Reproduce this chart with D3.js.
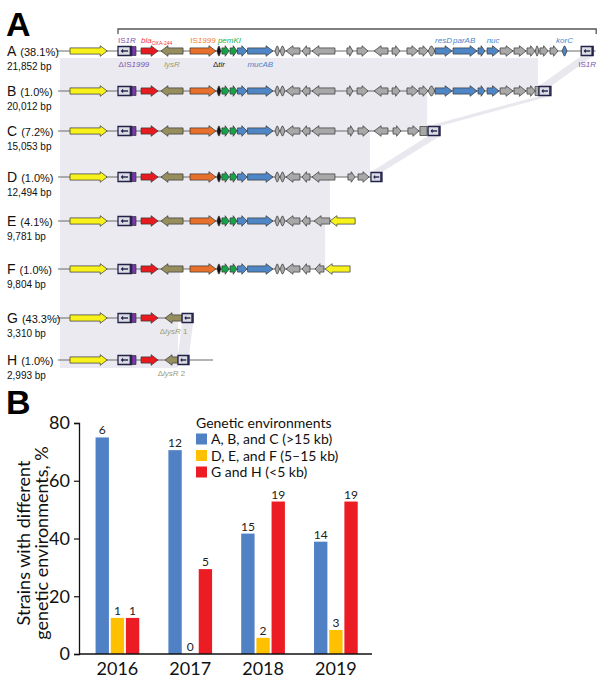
<!DOCTYPE html>
<html><head><meta charset="utf-8">
<script src="https://cdn.jsdelivr.net/npm/d3@7"></script>
<style>body{margin:0;background:#fff}svg{display:block}</style>
</head><body>
<svg id="chart" width="600" height="681"></svg>
<script>
// ================= Panel A data =================
const rowIds = ["A","B","C","D","E","F","G","H"];
const rowShares = ["(38.1%)","(1.0%)","(7.2%)","(1.0%)","(4.1%)","(1.0%)","(43.3%)","(1.0%)"];
const rowLengths = ["21,852 bp","20,012 bp","15,053 bp","12,494 bp","9,781 bp","9,804 bp","3,310 bp","2,993 bp"];
const rowLineStart = [-0.55,-0.5,-0.5,-0.5,-0.5,-0.5,-0.6,-0.5];
const rowLineEnd = [21.9,20.04,15.42,13.0,11.88,11.67,5.13,5.96];
// genes: [start kb, end kb, strand, type]
const coreGenes = [
  [0.0,1.55,1,"tnp"],[2.0,2.56,0,"IS"],[2.58,2.75,0,"dIS"],[2.96,3.67,1,"bla"],
  [3.79,4.71,-1,"lysR"],[5.0,6.08,1,"IS1999"],[6.12,6.29,0,"tir"],[6.33,6.63,1,"pem"],
  [6.67,6.96,1,"pem"],[6.98,7.38,1,"blue"],[7.4,8.46,1,"blue"],[8.54,8.73,0,"gray"],
  [8.75,8.96,0,"gray"],[9.0,9.58,-1,"gray"],[9.67,10.0,-1,"gray"]
];
const tailA = [
  [10.08,11.04,-1,"gray"],[11.54,11.79,1,"gray"],[11.96,12.42,1,"gray"],[12.67,13.25,-1,"gray"],
  [13.42,13.75,1,"gray"],[14.04,14.5,1,"gray"],[14.54,14.92,1,"gray"],[14.92,15.2,0,"gray"],
  [15.21,15.92,1,"blue"],[15.96,16.96,1,"blue"],[17.0,17.29,1,"blue"],[17.38,17.88,1,"blue"],
  [17.92,18.46,1,"gray"],[18.5,19.0,1,"gray"],[19.04,19.38,1,"gray"],[19.38,19.54,0,"gray"],
  [19.58,19.92,1,"gray"],[20.0,20.33,1,"gray"],[20.5,20.71,0,"blue"],[21.3,21.8,0,"IS"]
];
const tailB = [
  [10.08,11.04,-1,"gray"],[11.54,11.79,1,"gray"],[11.96,12.42,1,"gray"],[12.67,13.25,-1,"gray"],
  [13.42,13.75,1,"gray"],[14.04,14.5,1,"gray"],[14.54,14.92,1,"gray"],[14.92,15.2,0,"gray"],
  [15.21,15.92,1,"blue"],[15.96,16.96,1,"blue"],[17.0,17.29,1,"blue"],[17.38,17.88,1,"blue"],
  [17.92,18.46,1,"gray"],[18.5,19.0,1,"gray"],[19.04,19.38,1,"gray"],[19.38,19.54,0,"grayBox"],
  [19.54,20.04,0,"IS"]
];
const tailC = [
  [10.08,11.04,-1,"gray"],[11.58,11.83,1,"gray"],[12.0,12.46,1,"gray"],[12.67,13.25,-1,"gray"],
  [13.46,13.79,1,"gray"],[14.08,14.54,1,"gray"],[14.58,14.88,0,"grayBox"],[14.92,15.42,0,"IS"]
];
const tailD = [[10.08,11.04,-1,"gray"],[11.58,11.88,1,"gray"],[12.0,12.46,1,"gray"],[12.54,13.0,0,"IS"]];
const tailE = [[10.17,10.83,-1,"gray"],[10.83,11.88,-1,"tnp"]];
const tailF = [[10.21,10.58,-1,"gray"],[10.63,11.67,-1,"tnp"]];
const tailG = [[3.96,4.67,-1,"lysR"],[4.67,5.13,0,"IS"]];
const tailH = [[3.96,4.5,-1,"lysR"],[4.5,4.96,0,"IS"]];
// labels: [row, gene index, side, anchor, text]
const geneLabels = [
  [0,1,"above","start","IS<i>1R</i>"],[0,3,"above","start","<i>bla</i><sub>OXA-244</sub>"],
  [0,5,"above","middle","IS<i>1999</i>"],[0,7.5,"above","middle","<i>pemKI</i>"],
  [0,2,"below","middle","ΔIS<i>1999</i>"],[0,4,"below","middle","<i>lysR</i>"],
  [0,6,"below","middle","Δ<i>tir</i>"],[0,10,"below","middle","<i>mucAB</i>"],
  [0,23,"above","middle","<i>resD</i>"],[0,24,"above","start","<i>parAB</i>"],
  [0,26,"above","middle","<i>nuc</i>"],[0,33,"above","middle","<i>korC</i>"],
  [0,34,"below","middle","IS<i>1R</i>"],[6,4,"below","middle","Δ<i>lysR</i> 1"],
  [7,4,"below","middle","Δ<i>lysR</i> 2"]
];
// shared (homologous) region end between consecutive rows, kb
const bandRight = [19.5,14.88,12.5,10.83,10.63,4.58,4.5];

// ================= Panel B data =================
const years = ["2016","2017","2018","2019"];
const seriesNames = ["A, B, and C (>15 kb)","D, E, and F (5–15 kb)","G and H (<5 kb)"];
const pctABC = [75.0,70.6,41.7,38.9];
const pctDEF = [12.5,0,5.6,8.3];
const pctGH = [12.5,29.4,52.8,52.8];
const nABC = [6,12,15,14];
const nDEF = [1,0,2,3];
const nGH = [1,5,19,19];
const yTicks = [0,20,40,60,80];

// ================= Drawing =================
const svg = d3.select("#chart");
const fA = "'Liberation Sans', Arial, sans-serif";
const fB = "Lato, 'Open Sans', sans-serif";

const rows = [
  coreGenes.concat(tailA), coreGenes.concat(tailB), coreGenes.concat(tailC), coreGenes.concat(tailD),
  coreGenes.concat(tailE), coreGenes.concat(tailF), coreGenes.slice(0,4).concat(tailG), coreGenes.slice(0,4).concat(tailH)
];
const rowY = [51,91,131,177,221,269,318,360];
const x = d3.scaleLinear().domain([0,22]).range([70,598]);

const fill = {tnp:"#f7f21c",IS:"#dcdce4",dIS:"#7a35b0",bla:"#e8191f",lysR:"#968e5e",IS1999:"#e8702a",
  tir:"#111",pem:"#16a34a",blue:"#4f86c6",gray:"#a8a8a8",grayBox:"#a8a8a8"};
const labColor = {IS:"#7d55b0",dIS:"#7d55b0",bla:"#f23a3a",IS1999:"#f0802e",pem:"#22b04b",
  lysR:"#a09a6c",tir:"#222",blue:"#4a86c8"};

// shading
const gShade = svg.append("g");
bandRight.forEach((r,i)=>{
  const y0 = i===0 ? rowY[0]+7 : rowY[i];
  const y1 = i===bandRight.length-1 ? rowY[i+1]+8 : rowY[i+1];
  gShade.append("rect").attr("x",x(-0.42)).attr("y",y0).attr("width",x(r)-x(-0.42)).attr("height",y1-y0)
    .attr("fill","#eaeaf0");
});
// IS1R ribbons
function lastIS(r){ const g = rows[r]; return g[g.length-1]; }
[[0,1],[1,2],[2,3],[6,7]].forEach(([a,b])=>{
  const ga = lastIS(a), gb = lastIS(b);
  const pts = [[x(ga[0]),rowY[a]+5],[x(ga[1]),rowY[a]+5],[x(gb[1]),rowY[b]-5],[x(gb[0]),rowY[b]-5]];
  gShade.append("path").attr("d","M"+pts.join("L")+"Z").attr("fill","#e8e8ee");
});
// bracket
const IS0 = coreGenes[1], ISend = tailA[tailA.length-1];
svg.append("path").attr("d",`M${x(IS0[0])},34V29H${x(ISend[1])+3}V34`).attr("fill","none")
  .attr("stroke","#555").attr("stroke-width",1.3);

function genePath(g,y){
  const x0=x(g[0]), x1=x(g[1]), w=x1-x0, b=3.1, H=5.3;
  if(g[2]===0){
    if(g[3]==="IS"||g[3]==="dIS"||g[3]==="grayBox") return `M${x0},${y-4.5}H${x1}V${y+4.5}H${x0}Z`;
    const k=Math.min(w*0.4,3);
    return `M${x0},${y}L${x0+k},${y-4.8}L${x1-k},${y-4.8}L${x1},${y}L${x1-k},${y+4.8}L${x0+k},${y+4.8}Z`;
  }
  const hl=Math.min(7,w*0.55);
  if(g[2]===1) return `M${x0},${y-b}L${x1-hl},${y-b}L${x1-hl},${y-H}L${x1},${y}L${x1-hl},${y+H}L${x1-hl},${y+b}L${x0},${y+b}Z`;
  return `M${x1},${y-b}L${x0+hl},${y-b}L${x0+hl},${y-H}L${x0},${y}L${x0+hl},${y+H}L${x0+hl},${y+b}L${x1},${y+b}Z`;
}

rows.forEach((genes,i)=>{
  const y=rowY[i];
  const g=svg.append("g");
  g.append("line").attr("x1",x(rowLineStart[i])).attr("x2",x(rowLineEnd[i])).attr("y1",y).attr("y2",y)
    .attr("stroke","#6a6a6a").attr("stroke-width",1);
  g.selectAll("path.gene").data(genes).join("path").attr("class","gene")
    .attr("d",d=>genePath(d,y))
    .attr("fill",d=>fill[d[3]])
    .attr("stroke",d=>d[3]==="IS"?"#23234a":"#333")
    .attr("stroke-width",d=>d[3]==="IS"?1.3:0.7);
  genes.filter(d=>d[3]==="IS").forEach(d=>{
    const x0=x(d[0]), x1=x(d[1]), w=x1-x0;
    g.append("line").attr("x1",x0+w*0.28).attr("x2",x1-w*0.25).attr("y1",y).attr("y2",y)
      .attr("stroke","#23234a").attr("stroke-width",1.4);
    g.append("path").attr("d",`M${x0+w*0.2},${y}L${x0+w*0.38},${y-2.2}L${x0+w*0.38},${y+2.2}Z`).attr("fill","#23234a");
    g.append("line").attr("x1",x1-1).attr("x2",x1-1).attr("y1",y-4.5).attr("y2",y+4.5)
      .attr("stroke","#23234a").attr("stroke-width",1.6);
  });
  const t=g.append("text").attr("x",7).attr("y",y+4.5).attr("font-family",fA).attr("fill","#111");
  t.append("tspan").attr("font-size",14).text(rowIds[i]);
  t.append("tspan").attr("font-size",11).attr("dx",4).text(rowShares[i]);
  g.append("text").attr("x",7).attr("y",y+19).attr("font-family",fA).attr("font-size",10).attr("fill","#111")
    .text(rowLengths[i]);
});

function richText(sel,str){
  const re=/<(i|sub)>(.*?)<\/\1>|([^<]+)/g; let m;
  while((m=re.exec(str))){
    if(m[3]) sel.append("tspan").text(m[3]);
    else if(m[1]==="i") sel.append("tspan").attr("font-style","italic").text(m[2]);
    else sel.append("tspan").attr("font-size",5).attr("dy",2).text(m[2]);
  }
}
geneLabels.forEach(([r,gi,side,anchor,txt])=>{
  const genes=rows[r];
  const i0=Math.floor(gi), i1=Math.ceil(gi);
  const gx = anchor==="start" ? x(genes[i0][0]) : (x(genes[i0][0])+x(genes[i1][1]))/2;
  const type=genes[i0][3];
  const t=svg.append("text").attr("x",gx).attr("y",side==="above"?rowY[r]-8:rowY[r]+16)
    .attr("text-anchor",anchor).attr("font-family",fA).attr("font-size",8)
    .attr("fill",labColor[type]||"#333");
  richText(t,txt);
});

svg.append("text").attr("x",6).attr("y",36).attr("font-family",fA).attr("font-weight","bold")
  .attr("font-size",34).text("A");
svg.append("text").attr("x",6).attr("y",414).attr("font-family",fA).attr("font-weight","bold")
  .attr("font-size",34).text("B");

// ================= Panel B =================
const colors=["#4f81c4","#ffc000","#ec1c24"];
const vals=[pctABC,pctDEF,pctGH], counts=[nABC,nDEF,nGH];
const xB=d3.scaleBand().domain(years).range([81,372.3]).paddingInner(0.4).paddingOuter(0.2);
const xS=d3.scaleBand().domain(d3.range(3)).range([0,xB.bandwidth()]).paddingInner(0.12);
const yB=d3.scaleLinear().domain([0,80]).range([654,423]);
const gB=svg.append("g");
const barData=[];
years.forEach((yr,j)=>vals.forEach((s,k)=>barData.push({yr,k,v:s[j],n:counts[k][j]})));
gB.selectAll("rect.bar").data(barData).join("rect").attr("class","bar")
  .attr("x",d=>xB(d.yr)+xS(d.k)).attr("width",xS.bandwidth())
  .attr("y",d=>yB(d.v)).attr("height",d=>yB(0)-yB(d.v)).attr("fill",d=>colors[d.k]);
gB.selectAll("text.val").data(barData).join("text").attr("class","val")
  .attr("x",d=>xB(d.yr)+xS(d.k)+xS.bandwidth()/2).attr("y",d=>yB(d.v)-3)
  .attr("text-anchor","middle").attr("font-family",fB).attr("font-size",12).attr("fill","#222")
  .text(d=>d.n);
const yAx=gB.append("g").attr("transform","translate(79,0)")
  .call(d3.axisLeft(yB).tickValues(yTicks).tickSize(5).tickPadding(4));
yAx.select(".domain").attr("stroke","#111").attr("stroke-width",1.3);
yAx.selectAll(".tick line").attr("stroke","#111").attr("stroke-width",1.2);
yAx.selectAll("text").attr("font-family",fB).attr("font-size",18).attr("fill","#111");
const xAx=gB.append("g").attr("transform","translate(0,654)")
  .call(d3.axisBottom(xB).tickSize(0).tickPadding(8));
xAx.select(".domain").attr("d","M79,0H372").attr("stroke","#111").attr("stroke-width",1.3);
xAx.selectAll("text").attr("font-family",fB).attr("font-size",18).attr("fill","#111");
const yt=gB.append("text").attr("transform","translate(0,543) rotate(-90)").attr("text-anchor","middle")
  .attr("font-family",fB).attr("font-size",18).attr("fill","#111");
yt.append("tspan").attr("x",0).attr("y",30).text("Strains with different");
yt.append("tspan").attr("x",0).attr("y",48).text("genetic environments, %");
const lg=gB.append("g").attr("font-family",fB).attr("fill","#111");
lg.append("text").attr("x",196).attr("y",428).attr("font-size",14).text("Genetic environments");
seriesNames.forEach((s,k)=>{
  const cy=439+k*16.5;
  lg.append("rect").attr("x",196).attr("y",cy-5.5).attr("width",11).attr("height",11).attr("fill",colors[k]);
  lg.append("text").attr("x",211).attr("y",cy+5).attr("font-size",14).text(s);
});
</script>
</body></html>
